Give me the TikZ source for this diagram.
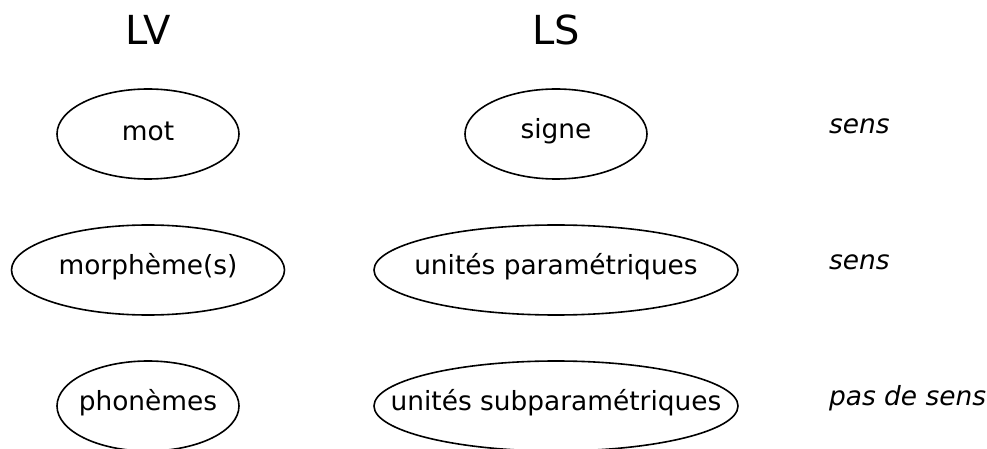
\documentclass[tikz,border=0pt]{standalone}
\usepackage{fontspec}
\setmainfont{DejaVu Sans}
\usetikzlibrary{shapes.geometric}

\tikzset{
	unit/.style={draw, ellipse, thick, inner sep=0pt, minimum height=45pt,
		label={[font=\fontsize{13.2}{15}\selectfont, yshift=1.5pt]center:#1}},
	level/.style={anchor=west, font=\fontsize{13.2}{15}\selectfont\itshape},
	lang/.style={font=\fontsize{20}{24}\selectfont}
}

\begin{document}
\begin{tikzpicture}[x=0.5pt, y=-0.5pt]
\useasboundingbox (0,0) rectangle (987,449);
\node[lang](lv) at (148,30) {LV};
\node[lang](ls) at (556,30) {LS};

\node[unit=mot, minimum width=91pt](mot) at (148,134) {};
\node[unit=signe, minimum width=91pt](signe) at (556,134) {};
\node[unit=morphème(s), minimum width=136.5pt](morph) at (148,270) {};
\node[unit=unités paramétriques, minimum width=182pt](param) at (556,270) {};
\node[unit=phonèmes, minimum width=91pt](phon) at (148,406) {};
\node[unit=unités subparamétriques, minimum width=182pt](subparam) at (556,406) {};

\node[level](sens1) at (822,126) {sens};
\node[level](sens2) at (822,262) {sens};
\node[level](nosens) at (822,398) {pas de sens};
\end{tikzpicture}
\end{document}
